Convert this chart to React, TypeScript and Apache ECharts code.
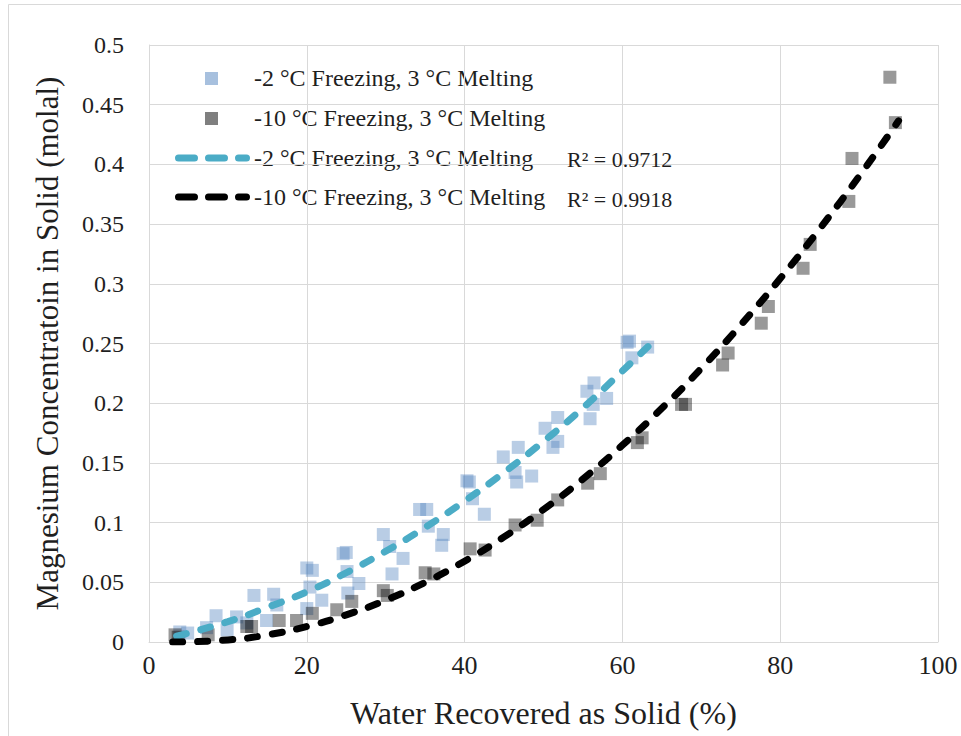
import { useEffect, useRef } from "react";
import * as echarts from "echarts";

const blueName = "-2 °C Freezing, 3 °C Melting";
const grayName = "-10 °C Freezing, 3 °C Melting";
const blueR2 = "R² = 0.9712";
const grayR2 = "R² = 0.9918";
const xTitle = "Water Recovered as Solid (%)";
const yTitle = "Magnesium Concentratoin in Solid (molal)";

// -2 °C freezing measurements [water recovered %, Mg molal]
const bluePoints: [number, number][] = [
  [3.9, 0.0084], [4.9, 0.0075], [7.3, 0.012], [8.5, 0.022], [9.9, 0.01],
  [11.1, 0.021], [12.4, 0.016], [13.3, 0.039], [14.9, 0.018], [15.8, 0.04],
  [16.2, 0.031], [20.0, 0.062], [20.7, 0.06], [20.4, 0.046], [21.9, 0.035],
  [20.0, 0.028], [24.6, 0.074], [25.0, 0.075], [25.1, 0.059], [26.6, 0.049],
  [25.2, 0.041], [29.7, 0.09], [30.5, 0.08], [32.2, 0.07], [30.8, 0.057],
  [34.3, 0.111], [35.2, 0.111], [35.4, 0.097], [37.3, 0.09], [37.1, 0.081],
  [40.3, 0.135], [40.6, 0.134], [41.0, 0.12], [42.5, 0.107], [44.9, 0.155],
  [46.8, 0.163], [46.4, 0.142], [46.6, 0.134], [48.5, 0.139], [50.2, 0.179],
  [51.8, 0.188], [51.8, 0.168], [51.2, 0.163], [55.5, 0.21], [56.4, 0.217],
  [56.3, 0.199], [55.9, 0.187], [58.0, 0.204], [60.6, 0.251], [60.9, 0.252],
  [61.2, 0.238], [63.2, 0.247],
];

// -10 °C freezing measurements
const grayPoints: [number, number][] = [
  [3.3, 0.006], [3.7, 0.004], [7.5, 0.006], [12.4, 0.013], [13.0, 0.013],
  [16.5, 0.018], [18.7, 0.018], [20.7, 0.024], [23.8, 0.027], [25.7, 0.034],
  [29.7, 0.043], [30.2, 0.039], [35.0, 0.058], [36.1, 0.057], [40.7, 0.078],
  [42.6, 0.077], [46.4, 0.098], [49.2, 0.102], [51.8, 0.119], [55.6, 0.133],
  [57.2, 0.141], [61.9, 0.167], [62.5, 0.171], [67.5, 0.199], [68.0, 0.199],
  [72.7, 0.232], [73.4, 0.242], [77.6, 0.267], [78.5, 0.281], [82.9, 0.313],
  [83.8, 0.333], [88.7, 0.369], [89.1, 0.405], [93.9, 0.473], [94.6, 0.435],
];

// trendlines
const blueTrendX = [3.5, 10, 15, 20, 25, 30, 35, 40, 45, 50, 55, 60, 63.5];
const blueTrendY = [0.005, 0.017, 0.029, 0.042, 0.058, 0.076, 0.096, 0.118, 0.142, 0.168, 0.196, 0.227, 0.249];
const grayTrendX = [3, 10, 15, 20, 25, 30, 35, 40, 45, 50, 55, 60, 65, 70, 75, 80, 85, 90, 95];
const grayTrendY = [0.0, 0.0017, 0.006, 0.013, 0.0227, 0.035, 0.05, 0.0677, 0.088, 0.111, 0.1365, 0.1648, 0.1957, 0.2292, 0.2655, 0.3044, 0.346, 0.39, 0.4365];

const FONT = "Liberation Serif";
const TEXT = "#1f1f1f";
const GRID = "#d9d9d9";
const BLUE_PT = "rgba(79,129,189,0.5)";
const GRAY_PT = "rgba(0,0,0,0.5)";
const BLUE_LINE = "#4BACC6";
const BLACK_LINE = "#000000";

export default function App() {
  const ref = useRef<HTMLDivElement>(null);
  useEffect(() => {
    if (!ref.current) return;
    const chart = echarts.init(ref.current, undefined, { renderer: "svg" });
    const zip = (xs: number[], ys: number[]) => xs.map((x, i) => [x, ys[i]]);
    const txt = (text: string, x: number, y: number, size: number) => ({
      type: "text",
      x,
      y,
      style: { text, fontSize: size, fontFamily: FONT, fill: TEXT, align: "left", verticalAlign: "middle" },
    });
    chart.setOption({
      animation: false,
      backgroundColor: "#ffffff",
      textStyle: { fontFamily: FONT },
      grid: { left: 149, right: 23, top: 45, bottom: 94, containLabel: false },
      xAxis: {
        type: "value",
        min: 0,
        max: 100,
        interval: 20,
        axisLine: { show: true, lineStyle: { color: GRID, width: 1 } },
        axisTick: { show: false },
        splitLine: { show: true, lineStyle: { color: GRID, width: 1 } },
        axisLabel: { fontSize: 26, fontFamily: FONT, color: TEXT, margin: 10 },
        name: xTitle,
        nameLocation: "middle",
        nameGap: 55,
        nameTextStyle: { fontSize: 32, fontFamily: FONT, color: TEXT },
      },
      yAxis: {
        type: "value",
        min: 0,
        max: 0.5,
        interval: 0.05,
        axisLine: { show: true, lineStyle: { color: GRID, width: 1 } },
        axisTick: { show: false },
        splitLine: { show: true, lineStyle: { color: GRID, width: 1 } },
        axisLabel: { fontSize: 24, fontFamily: FONT, color: TEXT, margin: 25 },
        name: yTitle,
        nameLocation: "middle",
        nameGap: 86,
        nameTextStyle: { fontSize: 31, fontFamily: FONT, color: TEXT },
      },
      series: [
        {
          name: blueName,
          type: "scatter",
          symbol: "rect",
          symbolSize: 13,
          itemStyle: { color: BLUE_PT },
          data: bluePoints,
        },
        {
          name: grayName,
          type: "scatter",
          symbol: "rect",
          symbolSize: 13,
          itemStyle: { color: GRAY_PT },
          data: grayPoints,
        },
        {
          name: blueName + " trend",
          type: "line",
          smooth: true,
          symbol: "none",
          showSymbol: false,
          lineStyle: { color: BLUE_LINE, width: 7, type: [10, 15], cap: "round" },
          data: zip(blueTrendX, blueTrendY),
        },
        {
          name: grayName + " trend",
          type: "line",
          smooth: true,
          symbol: "none",
          showSymbol: false,
          lineStyle: { color: BLACK_LINE, width: 7, type: [10, 15], cap: "round" },
          data: zip(grayTrendX, grayTrendY),
        },
      ],
      graphic: [
        {
          type: "rect",
          z: 0,
          silent: true,
          shape: { x: 8.5, y: 4.5, width: 1000, height: 1000 },
          style: { fill: "none", stroke: GRID, lineWidth: 1 },
        },
        {
          type: "group",
          z: 10,
          children: [
            { type: "rect", shape: { x: 153, y: 56, width: 413, height: 160 }, style: { fill: "#ffffff" } },
            { type: "rect", shape: { x: 205, y: 72, width: 13, height: 13 }, style: { fill: BLUE_PT } },
            { type: "rect", shape: { x: 205, y: 112, width: 13, height: 13 }, style: { fill: GRAY_PT } },
            {
              type: "line",
              shape: { x1: 178.5, y1: 158, x2: 246.5, y2: 158 },
              style: { stroke: BLUE_LINE, lineWidth: 7, lineDash: [16, 14], lineCap: "round" },
            },
            {
              type: "line",
              shape: { x1: 178.5, y1: 197, x2: 246.5, y2: 197 },
              style: { stroke: BLACK_LINE, lineWidth: 7, lineDash: [16, 14], lineCap: "round" },
            },
            txt(blueName, 254, 78, 24),
            txt(grayName, 254, 118, 24),
            txt(blueName, 254, 158, 24),
            txt(grayName, 254, 197, 24),
          ],
        },
        { ...txt(blueR2, 567, 159, 22), z: 10 },
        { ...txt(grayR2, 567, 199, 22), z: 10 },
      ],
    });
    return () => chart.dispose();
  }, []);
  return (
    <div
      ref={ref}
      style={{ position: "fixed", left: 0, top: 0, width: 961, height: 736, background: "#fff" }}
    />
  );
}
